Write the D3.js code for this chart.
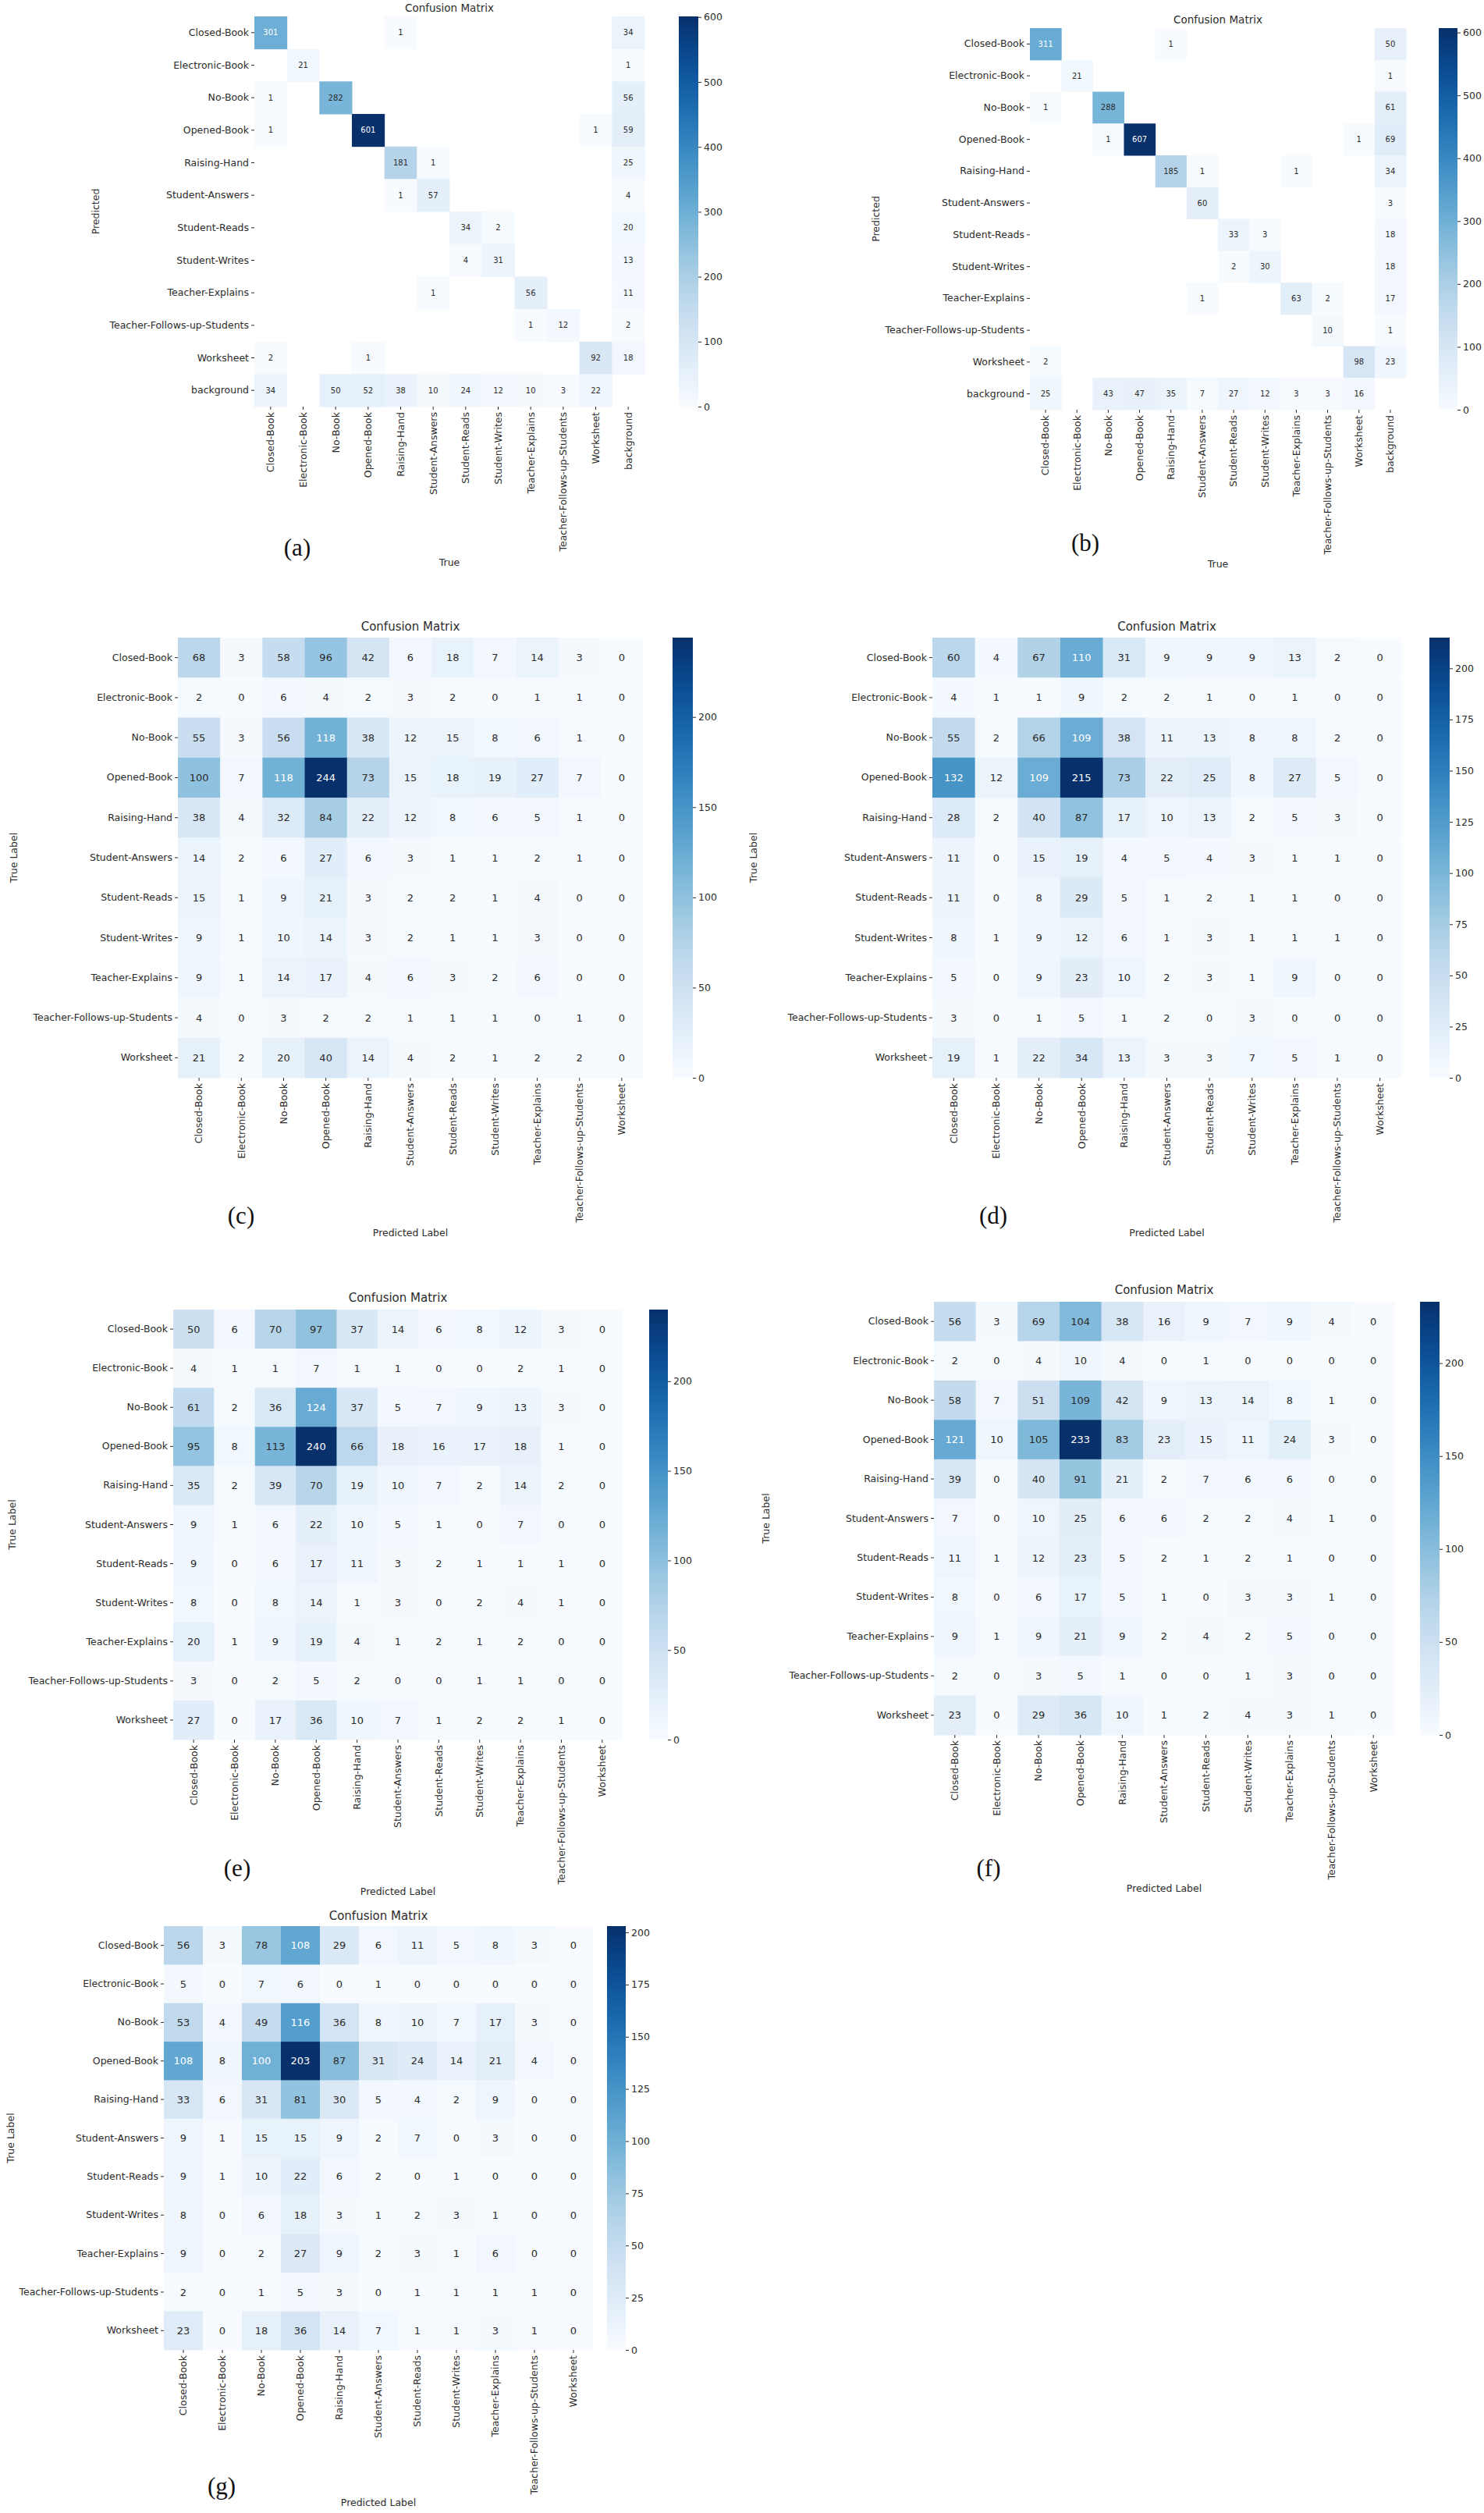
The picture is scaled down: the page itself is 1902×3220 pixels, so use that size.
<!DOCTYPE html>
<html>
<head>
<meta charset="utf-8">
<script src="https://cdn.jsdelivr.net/npm/d3@7"></script>
<style>
  body { margin: 0; background: #fff; }
  svg text { font-family: "DejaVu Sans", sans-serif; fill: #2b2b2b; }
</style>
</head>
<body>
<svg id="fig" width="1902" height="3220"></svg>
<script>
// class names for the detection matrices (a, b) and classification matrices (c..g)
const detClasses = ["Closed-Book", "Electronic-Book", "No-Book", "Opened-Book", "Raising-Hand",
  "Student-Answers", "Student-Reads", "Student-Writes", "Teacher-Explains",
  "Teacher-Follows-up-Students", "Worksheet", "background"];
const clsClasses = ["Closed-Book", "Electronic-Book", "No-Book", "Opened-Book", "Raising-Hand",
  "Student-Answers", "Student-Reads", "Student-Writes", "Teacher-Explains",
  "Teacher-Follows-up-Students", "Worksheet"];

// (a) rows = predicted, cols = true, 0 = empty cell
const cmA = [
  [301, 0, 0, 0, 1, 0, 0, 0, 0, 0, 0, 34],
  [0, 21, 0, 0, 0, 0, 0, 0, 0, 0, 0, 1],
  [1, 0, 282, 0, 0, 0, 0, 0, 0, 0, 0, 56],
  [1, 0, 0, 601, 0, 0, 0, 0, 0, 0, 1, 59],
  [0, 0, 0, 0, 181, 1, 0, 0, 0, 0, 0, 25],
  [0, 0, 0, 0, 1, 57, 0, 0, 0, 0, 0, 4],
  [0, 0, 0, 0, 0, 0, 34, 2, 0, 0, 0, 20],
  [0, 0, 0, 0, 0, 0, 4, 31, 0, 0, 0, 13],
  [0, 0, 0, 0, 0, 1, 0, 0, 56, 0, 0, 11],
  [0, 0, 0, 0, 0, 0, 0, 0, 1, 12, 0, 2],
  [2, 0, 0, 1, 0, 0, 0, 0, 0, 0, 92, 18],
  [34, 0, 50, 52, 38, 10, 24, 12, 10, 3, 22, 0]
];
// (b)
const cmB = [
  [311, 0, 0, 0, 1, 0, 0, 0, 0, 0, 0, 50],
  [0, 21, 0, 0, 0, 0, 0, 0, 0, 0, 0, 1],
  [1, 0, 288, 0, 0, 0, 0, 0, 0, 0, 0, 61],
  [0, 0, 1, 607, 0, 0, 0, 0, 0, 0, 1, 69],
  [0, 0, 0, 0, 185, 1, 0, 0, 1, 0, 0, 34],
  [0, 0, 0, 0, 0, 60, 0, 0, 0, 0, 0, 3],
  [0, 0, 0, 0, 0, 0, 33, 3, 0, 0, 0, 18],
  [0, 0, 0, 0, 0, 0, 2, 30, 0, 0, 0, 18],
  [0, 0, 0, 0, 0, 1, 0, 0, 63, 2, 0, 17],
  [0, 0, 0, 0, 0, 0, 0, 0, 0, 10, 0, 1],
  [2, 0, 0, 0, 0, 0, 0, 0, 0, 0, 98, 23],
  [25, 0, 43, 47, 35, 7, 27, 12, 3, 3, 16, 0]
];
// (c) rows = true, cols = predicted
const cmC = [
  [68, 3, 58, 96, 42, 6, 18, 7, 14, 3, 0],
  [2, 0, 6, 4, 2, 3, 2, 0, 1, 1, 0],
  [55, 3, 56, 118, 38, 12, 15, 8, 6, 1, 0],
  [100, 7, 118, 244, 73, 15, 18, 19, 27, 7, 0],
  [38, 4, 32, 84, 22, 12, 8, 6, 5, 1, 0],
  [14, 2, 6, 27, 6, 3, 1, 1, 2, 1, 0],
  [15, 1, 9, 21, 3, 2, 2, 1, 4, 0, 0],
  [9, 1, 10, 14, 3, 2, 1, 1, 3, 0, 0],
  [9, 1, 14, 17, 4, 6, 3, 2, 6, 0, 0],
  [4, 0, 3, 2, 2, 1, 1, 1, 0, 1, 0],
  [21, 2, 20, 40, 14, 4, 2, 1, 2, 2, 0]
];
// (d)
const cmD = [
  [60, 4, 67, 110, 31, 9, 9, 9, 13, 2, 0],
  [4, 1, 1, 9, 2, 2, 1, 0, 1, 0, 0],
  [55, 2, 66, 109, 38, 11, 13, 8, 8, 2, 0],
  [132, 12, 109, 215, 73, 22, 25, 8, 27, 5, 0],
  [28, 2, 40, 87, 17, 10, 13, 2, 5, 3, 0],
  [11, 0, 15, 19, 4, 5, 4, 3, 1, 1, 0],
  [11, 0, 8, 29, 5, 1, 2, 1, 1, 0, 0],
  [8, 1, 9, 12, 6, 1, 3, 1, 1, 1, 0],
  [5, 0, 9, 23, 10, 2, 3, 1, 9, 0, 0],
  [3, 0, 1, 5, 1, 2, 0, 3, 0, 0, 0],
  [19, 1, 22, 34, 13, 3, 3, 7, 5, 1, 0]
];
// (e)
const cmE = [
  [50, 6, 70, 97, 37, 14, 6, 8, 12, 3, 0],
  [4, 1, 1, 7, 1, 1, 0, 0, 2, 1, 0],
  [61, 2, 36, 124, 37, 5, 7, 9, 13, 3, 0],
  [95, 8, 113, 240, 66, 18, 16, 17, 18, 1, 0],
  [35, 2, 39, 70, 19, 10, 7, 2, 14, 2, 0],
  [9, 1, 6, 22, 10, 5, 1, 0, 7, 0, 0],
  [9, 0, 6, 17, 11, 3, 2, 1, 1, 1, 0],
  [8, 0, 8, 14, 1, 3, 0, 2, 4, 1, 0],
  [20, 1, 9, 19, 4, 1, 2, 1, 2, 0, 0],
  [3, 0, 2, 5, 2, 0, 0, 1, 1, 0, 0],
  [27, 0, 17, 36, 10, 7, 1, 2, 2, 1, 0]
];
// (f)
const cmF = [
  [56, 3, 69, 104, 38, 16, 9, 7, 9, 4, 0],
  [2, 0, 4, 10, 4, 0, 1, 0, 0, 0, 0],
  [58, 7, 51, 109, 42, 9, 13, 14, 8, 1, 0],
  [121, 10, 105, 233, 83, 23, 15, 11, 24, 3, 0],
  [39, 0, 40, 91, 21, 2, 7, 6, 6, 0, 0],
  [7, 0, 10, 25, 6, 6, 2, 2, 4, 1, 0],
  [11, 1, 12, 23, 5, 2, 1, 2, 1, 0, 0],
  [8, 0, 6, 17, 5, 1, 0, 3, 3, 1, 0],
  [9, 1, 9, 21, 9, 2, 4, 2, 5, 0, 0],
  [2, 0, 3, 5, 1, 0, 0, 1, 3, 0, 0],
  [23, 0, 29, 36, 10, 1, 2, 4, 3, 1, 0]
];
// (g)
const cmG = [
  [56, 3, 78, 108, 29, 6, 11, 5, 8, 3, 0],
  [5, 0, 7, 6, 0, 1, 0, 0, 0, 0, 0],
  [53, 4, 49, 116, 36, 8, 10, 7, 17, 3, 0],
  [108, 8, 100, 203, 87, 31, 24, 14, 21, 4, 0],
  [33, 6, 31, 81, 30, 5, 4, 2, 9, 0, 0],
  [9, 1, 15, 15, 9, 2, 7, 0, 3, 0, 0],
  [9, 1, 10, 22, 6, 2, 0, 1, 0, 0, 0],
  [8, 0, 6, 18, 3, 1, 2, 3, 1, 0, 0],
  [9, 0, 2, 27, 9, 2, 3, 1, 6, 0, 0],
  [2, 0, 1, 5, 3, 0, 1, 1, 1, 1, 0],
  [23, 0, 18, 36, 14, 7, 1, 1, 3, 1, 0]
];

// colorbar ticks
const ticksDet = [0, 100, 200, 300, 400, 500, 600];
const ticks50 = [0, 50, 100, 150, 200];
const ticks25 = [0, 25, 50, 75, 100, 125, 150, 175, 200];

// panel layout (pixel boxes of each heatmap)
const panels = [
  { tag: "(a)", data: cmA, names: detClasses, hideZero: true, ticks: ticksDet,
    x0: 326, x1: 826, y0: 21, y1: 521, cbx: 870, cbw: 25,
    ylab: "Predicted", xlab: "True", ylx: 123, xly: 725, capx: 381, capy: 712, titley: 15,
    lab: 12.5, ann: 10, tit: 13.5 },
  { tag: "(b)", data: cmB, names: detClasses, hideZero: true, ticks: ticksDet,
    x0: 1320, x1: 1802, y0: 36, y1: 525, cbx: 1844, cbw: 24,
    ylab: "Predicted", xlab: "True", ylx: 1123, xly: 727, capx: 1391, capy: 706, titley: 30,
    lab: 12.5, ann: 10, tit: 13.5 },
  { tag: "(c)", data: cmC, names: clsClasses, hideZero: false, ticks: ticks50,
    x0: 228, x1: 824, y0: 817, y1: 1381, cbx: 862, cbw: 26,
    ylab: "True Label", xlab: "Predicted Label", ylx: 18, xly: 1584, capx: 309, capy: 1568, titley: 808,
    lab: 12.5, ann: 13, tit: 15 },
  { tag: "(d)", data: cmD, names: clsClasses, hideZero: false, ticks: ticks25,
    x0: 1195, x1: 1796, y0: 817, y1: 1381, cbx: 1832, cbw: 26,
    ylab: "True Label", xlab: "Predicted Label", ylx: 966, xly: 1584, capx: 1273, capy: 1568, titley: 808,
    lab: 12.5, ann: 13, tit: 15 },
  { tag: "(e)", data: cmE, names: clsClasses, hideZero: false, ticks: ticks50,
    x0: 222, x1: 798, y0: 1678, y1: 2229, cbx: 832, cbw: 24,
    ylab: "True Label", xlab: "Predicted Label", ylx: 16, xly: 2428, capx: 304, capy: 2404, titley: 1668,
    lab: 12.5, ann: 13, tit: 15 },
  { tag: "(f)", data: cmF, names: clsClasses, hideZero: false, ticks: ticks50,
    x0: 1197, x1: 1787, y0: 1668, y1: 2223, cbx: 1820, cbw: 25,
    ylab: "True Label", xlab: "Predicted Label", ylx: 982, xly: 2424, capx: 1267, capy: 2404, titley: 1658,
    lab: 12.5, ann: 13, tit: 15 },
  { tag: "(g)", data: cmG, names: clsClasses, hideZero: false, ticks: ticks25,
    x0: 210, x1: 760, y0: 2468, y1: 3011, cbx: 778, cbw: 24,
    ylab: "True Label", xlab: "Predicted Label", ylx: 14, xly: 3211, capx: 284, capy: 3196, titley: 2460,
    lab: 12.5, ann: 13, tit: 15 }
];

const svg = d3.select("#fig");
const defs = svg.append("defs");

function drawPanel(p, k) {
  const g = svg.append("g");
  const n = p.names.length;
  const x = d3.scaleBand().domain(d3.range(n)).range([p.x0, p.x1]);
  const y = d3.scaleBand().domain(d3.range(n)).range([p.y0, p.y1]);
  const vmax = d3.max(p.data.flat());
  const color = d3.scaleSequential(d3.interpolateBlues).domain([0, vmax]);

  const cells = [];
  p.data.forEach((row, i) => row.forEach((v, j) => {
    if (!(p.hideZero && v === 0)) cells.push({ i, j, v });
  }));

  // heatmap cells
  g.selectAll("rect.cell").data(cells).enter().append("rect")
    .attr("x", d => x(d.j))
    .attr("y", d => y(d.i))
    .attr("width", x.bandwidth() + 0.5)
    .attr("height", y.bandwidth() + 0.5)
    .attr("fill", d => color(d.v));

  // annotations
  g.selectAll("text.ann").data(cells).enter().append("text")
    .attr("x", d => x(d.j) + x.bandwidth() / 2)
    .attr("y", d => y(d.i) + y.bandwidth() / 2)
    .attr("dy", "0.35em")
    .attr("text-anchor", "middle")
    .style("font-size", p.ann + "px")
    .style("fill", d => d.v / vmax > 0.475 ? "#ffffff" : "#2b2b2b")
    .text(d => d.v);

  // y axis
  const yAxis = g.append("g")
    .attr("transform", `translate(${p.x0},0)`)
    .call(d3.axisLeft(y).tickSize(4).tickPadding(3).tickFormat(i => p.names[i]));
  yAxis.select(".domain").remove();
  yAxis.selectAll("line").attr("stroke", "#2b2b2b");
  yAxis.selectAll("text").style("font-size", p.lab + "px").attr("fill", "#2b2b2b");

  // x axis, labels rotated
  const xAxis = g.append("g")
    .attr("transform", `translate(0,${p.y1})`)
    .call(d3.axisBottom(x).tickSize(4).tickFormat(i => p.names[i]));
  xAxis.select(".domain").remove();
  xAxis.selectAll("line").attr("stroke", "#2b2b2b");
  xAxis.selectAll("text")
    .style("font-size", p.lab + "px").attr("fill", "#2b2b2b")
    .attr("transform", "rotate(-90)")
    .attr("x", -7).attr("y", 0).attr("dy", "0.35em")
    .attr("text-anchor", "end");

  // title and axis labels
  const cx = (p.x0 + p.x1) / 2;
  g.append("text").attr("x", cx).attr("y", p.titley).attr("text-anchor", "middle")
    .style("font-size", p.tit + "px").text("Confusion Matrix");
  g.append("text").attr("x", cx).attr("y", p.xly).attr("text-anchor", "middle")
    .style("font-size", p.lab + "px").text(p.xlab);
  g.append("text")
    .attr("transform", `translate(${p.ylx},${(p.y0 + p.y1) / 2}) rotate(-90)`)
    .attr("text-anchor", "middle").attr("dy", "0.35em")
    .style("font-size", p.lab + "px").text(p.ylab);

  // sub-figure caption
  g.append("text").attr("x", p.capx).attr("y", p.capy).attr("text-anchor", "middle")
    .style("font-family", "'Liberation Serif', 'DejaVu Serif', serif")
    .style("font-size", "31px").style("fill", "#111").text(p.tag);

  // colorbar
  const gid = "cb" + k;
  const grad = defs.append("linearGradient").attr("id", gid)
    .attr("x1", 0).attr("y1", 1).attr("x2", 0).attr("y2", 0);
  d3.range(0, 1.0001, 0.05).forEach(t => {
    grad.append("stop").attr("offset", t).attr("stop-color", d3.interpolateBlues(t));
  });
  g.append("rect").attr("x", p.cbx).attr("y", p.y0)
    .attr("width", p.cbw).attr("height", p.y1 - p.y0)
    .attr("fill", `url(#${gid})`);
  const cbScale = d3.scaleLinear().domain([0, vmax]).range([p.y1, p.y0]);
  const cbAxis = g.append("g")
    .attr("transform", `translate(${p.cbx + p.cbw},0)`)
    .call(d3.axisRight(cbScale).tickValues(p.ticks).tickSize(4).tickPadding(3));
  cbAxis.select(".domain").remove();
  cbAxis.selectAll("line").attr("stroke", "#2b2b2b");
  cbAxis.selectAll("text").style("font-size", p.lab + "px").attr("fill", "#2b2b2b");
}

panels.forEach(drawPanel);
</script>
</body>
</html>
